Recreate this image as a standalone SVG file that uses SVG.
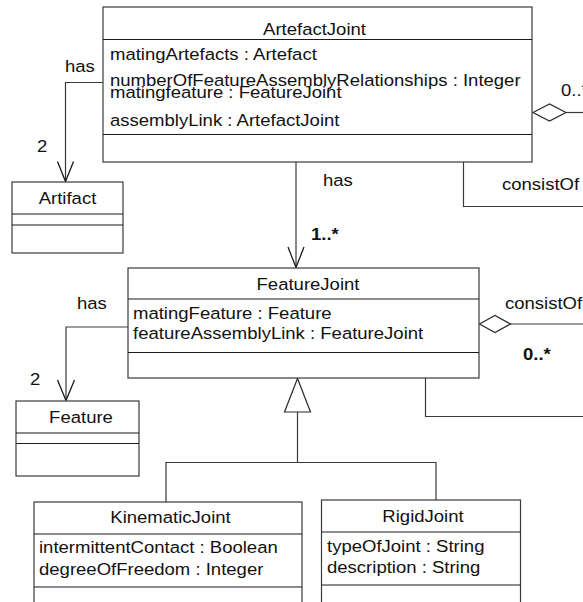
<svg xmlns="http://www.w3.org/2000/svg" width="583" height="602" viewBox="0 0 583 602">
  <style>
    .box { fill: #ffffff; stroke: #3a3a3a; stroke-width: 1.2; }
    .div { stroke: #1a1a1a; stroke-width: 1.2; fill: none; }
    .ln { stroke: #3a3a3a; stroke-width: 1.2; fill: none; }
    .open { stroke: #1a1a1a; stroke-width: 1.3; fill: none; }
    .hollow { stroke: #2a2a2a; stroke-width: 1.2; fill: #ffffff; }
    text { font-family: "Liberation Sans", Arial, sans-serif; font-size: 17px; fill: #111; }
    .c { text-anchor: middle; }
    .b { font-weight: bold; }
  </style>

  <rect width="583" height="602" fill="#ffffff"/>

  <!-- connectors -->
  <g id="connectors">
    <!-- ArtefactJoint has 2 Artifact -->
    <polyline class="ln" points="103,82.5 65.5,82.5 65.5,181"/>
    <polyline class="open" points="57.5,161.5 65.5,181.5 73.5,161.5"/>
    <text transform="translate(65 72) scale(1.09 1)">has</text>
    <text transform="translate(37 152) scale(1.09 1)">2</text>

    <!-- ArtefactJoint has 1..* FeatureJoint -->
    <line class="ln" x1="296" y1="162" x2="296" y2="267"/>
    <polyline class="open" points="288,247 296,267.5 304,247"/>
    <text transform="translate(323 186) scale(1.09 1)">has</text>
    <text class="b" transform="translate(311 240) scale(1.09 1)">1..*</text>

    <!-- ArtefactJoint consistOf 0..* (self aggregation) -->
    <polyline class="ln" points="463.5,162 463.5,206.5 583,206.5"/>
    <line class="ln" x1="566" y1="112.5" x2="583" y2="112.5"/>
    <polygon class="hollow" points="533,112.5 549.5,104 566,112.5 549.5,121"/>
    <text transform="translate(561 96) scale(1.09 1)">0..*</text>
    <text transform="translate(502 190) scale(1.09 1)">consistOf</text>

    <!-- FeatureJoint has 2 Feature -->
    <polyline class="ln" points="128,327 66,327 66,400"/>
    <polyline class="open" points="57.5,380 66,400.5 74.5,380"/>
    <text transform="translate(77 309) scale(1.09 1)">has</text>
    <text transform="translate(30 385) scale(1.09 1)">2</text>

    <!-- FeatureJoint consistOf 0..* (self aggregation) -->
    <polyline class="ln" points="425.5,378 425.5,416.5 583,416.5"/>
    <line class="ln" x1="510" y1="324" x2="583" y2="324"/>
    <polygon class="hollow" points="479.5,324 495,315.5 510.5,324 495,332.5"/>
    <text transform="translate(505 309) scale(1.09 1)">consistOf</text>
    <text class="b" transform="translate(523 360) scale(1.09 1)">0..*</text>

    <!-- generalization: KinematicJoint, RigidJoint -> FeatureJoint -->
    <polyline class="ln" points="166,502 166,462.5 436,462.5 436,500"/>
    <line class="ln" x1="297.5" y1="412" x2="297.5" y2="462.5"/>
    <polygon class="hollow" points="297.5,378.5 284.5,412 310.5,412"/>
  </g>

  <!-- ArtefactJoint -->
  <g id="ArtefactJoint">
    <rect class="box" x="103" y="7" width="429" height="155"/>
    <line class="div" x1="103" y1="39.5" x2="532" y2="39.5"/>
    <line class="div" x1="103" y1="134.5" x2="532" y2="134.5"/>
    <text class="c" transform="translate(314.5 35) scale(1.09 1)">ArtefactJoint</text>
    <text transform="translate(110 60) scale(1.09 1)">matingArtefacts : Artefact</text>
    <text transform="translate(110 85.5) scale(1.09 1)">numberOfFeatureAssemblyRelationships : Integer</text>
    <text transform="translate(110 98) scale(1.09 1)">matingfeature : FeatureJoint</text>
    <text transform="translate(110 126) scale(1.09 1)">assemblyLink : ArtefactJoint</text>
  </g>

  <!-- Artifact -->
  <g id="Artifact">
    <rect class="box" x="12" y="182" width="111" height="71"/>
    <line class="div" x1="12" y1="214" x2="123" y2="214"/>
    <line class="div" x1="12" y1="225" x2="123" y2="225"/>
    <text class="c" transform="translate(67.5 204) scale(1.09 1)">Artifact</text>
  </g>

  <!-- FeatureJoint -->
  <g id="FeatureJoint">
    <rect class="box" x="128" y="268" width="351" height="110"/>
    <line class="div" x1="128" y1="299" x2="479" y2="299"/>
    <line class="div" x1="128" y1="352.5" x2="479" y2="352.5"/>
    <text class="c" transform="translate(308 290) scale(1.09 1)">FeatureJoint</text>
    <text transform="translate(133 319) scale(1.09 1)">matingFeature : Feature</text>
    <text transform="translate(133 339) scale(1.09 1)">featureAssemblyLink : FeatureJoint</text>
  </g>

  <!-- Feature -->
  <g id="Feature">
    <rect class="box" x="16" y="401" width="123" height="75"/>
    <line class="div" x1="16" y1="433" x2="139" y2="433"/>
    <line class="div" x1="16" y1="443.5" x2="139" y2="443.5"/>
    <text class="c" transform="translate(81 423) scale(1.09 1)">Feature</text>
  </g>

  <!-- KinematicJoint -->
  <g id="KinematicJoint">
    <rect class="box" x="34" y="502" width="268" height="110"/>
    <line class="div" x1="34" y1="534" x2="302" y2="534"/>
    <line class="div" x1="34" y1="587" x2="302" y2="587"/>
    <text class="c" transform="translate(170.5 523) scale(1.09 1)">KinematicJoint</text>
    <text transform="translate(39 553) scale(1.09 1)">intermittentContact : Boolean</text>
    <text transform="translate(39 575) scale(1.09 1)">degreeOfFreedom : Integer</text>
  </g>

  <!-- RigidJoint -->
  <g id="RigidJoint">
    <rect class="box" x="321.5" y="500" width="199" height="112"/>
    <line class="div" x1="321.5" y1="532" x2="520.5" y2="532"/>
    <line class="div" x1="321.5" y1="585" x2="520.5" y2="585"/>
    <text class="c" transform="translate(423 521.5) scale(1.09 1)">RigidJoint</text>
    <text transform="translate(327 551.5) scale(1.09 1)">typeOfJoint : String</text>
    <text transform="translate(327 572.5) scale(1.09 1)">description : String</text>
  </g>
</svg>
